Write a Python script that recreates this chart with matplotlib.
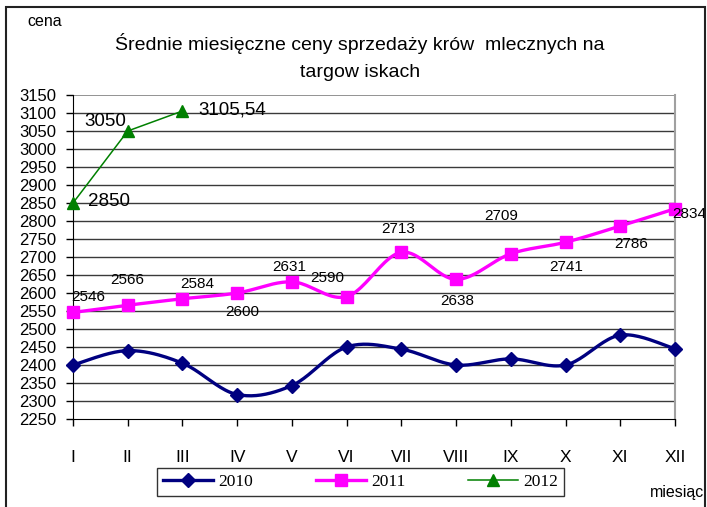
import numpy as np
import matplotlib
matplotlib.use("Agg")
import matplotlib.pyplot as plt
from matplotlib.lines import Line2D
from matplotlib.patches import Rectangle
from matplotlib import font_manager

# ---------------- data ----------------
months = ["I", "II", "III", "IV", "V", "VI", "VII", "VIII", "IX", "X", "XI", "XII"]
y2010 = [2400, 2440, 2405, 2318, 2343, 2450, 2444, 2400, 2417, 2400, 2483, 2445]
y2011 = [2546, 2566, 2584, 2600, 2631, 2590, 2713, 2638, 2709, 2741, 2786, 2834]
y2012 = [2850, 3050, 3105.54]
labels2011 = ["2546", "2566", "2584", "2600", "2631", "2590", "2713", "2638",
              "2709", "2741", "2786", "2834"]
labels2012 = ["2850", "3050", "3105,54"]
series_names = ["2010", "2011", "2012"]
title = "Średnie miesięczne ceny sprzedaży krów  mlecznych na\ntargow iskach"
ylabel = "cena"
xlabel = "miesiąc"
yticks = list(range(2250, 3151, 50))

# label offsets (pixels) – layout only
off2011 = [(15, 15), (0, 25), (15, 15), (5, -19), (-3, 15), (-19, 19), (-3, 23),
           (1, -22), (-10, 38), (1, -25), (11, -18), (14, -5)]
off2012 = [(36, 1), (-22, 10), (50, 1)]

# ---------------- fonts ----------------
avail = {f.name for f in font_manager.fontManager.ttflist}
sans = "Liberation Sans" if "Liberation Sans" in avail else "DejaVu Sans"
narrow = "Liberation Sans Narrow" if "Liberation Sans Narrow" in avail else sans
serif = "Liberation Serif" if "Liberation Serif" in avail else "DejaVu Serif"
plt.rcParams["font.family"] = [sans, "DejaVu Sans"]


def smooth(xs, ys, n=24):
    p = np.column_stack([xs, ys]).astype(float)
    out = [p[0]]
    for i in range(len(p) - 1):
        p0 = p[i - 1] if i > 0 else p[i]
        p3 = p[i + 2] if i + 2 < len(p) else p[i + 1]
        c1 = p[i] + (p[i + 1] - p0) / 6.0
        c2 = p[i + 1] - (p3 - p[i]) / 6.0
        t = np.linspace(0, 1, n)[1:, None]
        seg = ((1 - t) ** 3) * p[i] + 3 * ((1 - t) ** 2) * t * c1 + 3 * (1 - t) * t ** 2 * c2 + t ** 3 * p[i + 1]
        out.extend(seg)
    out = np.array(out)
    return out[:, 0], out[:, 1]


W, H = 707, 507
fig = plt.figure(figsize=(W / 100, H / 100), dpi=100)
fig.patch.set_facecolor("white")

L, R, T, B = 73, 675, 95, 419
ax = fig.add_axes([L / W, 1 - B / H, (R - L) / W, (B - T) / H])

x = np.arange(len(months))
c2010, c2011, c2012 = "#000080", "#FF00FF", "#008000"

# grid
ax.set_ylim(2250, 3150)
ax.set_xlim(0, len(months) - 1)
ax.set_yticks(yticks)
ax.set_yticklabels([str(v) for v in yticks])
ax.set_xticks(x)
ax.set_xticklabels(months)
for v in yticks[1:-1]:
    ax.axhline(v, color="#3a3a3a", lw=1.0, zorder=1)
ax.axhline(yticks[-1], color="#8a8a8a", lw=1.3, zorder=1)

ax.spines["top"].set_visible(False)
ax.spines["right"].set_color("#a0a0a0")
ax.spines["right"].set_linewidth(1.5)
ax.spines["left"].set_color("black")
ax.spines["bottom"].set_color("black")
ax.tick_params(axis="y", direction="out", length=5, width=1, pad=7, labelsize=12)
ax.tick_params(axis="x", direction="out", length=5, width=1, pad=17, labelsize=12.5)

# series
sx, sy = smooth(x, y2010)
ax.plot(sx, sy, color=c2010, lw=2.4, zorder=3, clip_on=False)
ax.plot(x, y2010, ls="none", marker="D", ms=7.5, color=c2010, zorder=4, clip_on=False)

sx, sy = smooth(x, y2011)
ax.plot(sx, sy, color=c2011, lw=2.4, zorder=3, clip_on=False)
ax.plot(x, y2011, ls="none", marker="s", ms=8, color=c2011, zorder=4, clip_on=False)

x12 = x[:len(y2012)]
ax.plot(x12, y2012, color=c2012, lw=1.1, marker="^", ms=9, zorder=4, clip_on=False)

for xi, yi, lab, (dx, dy) in zip(x, y2011, labels2011, off2011):
    ax.annotate(lab, (xi, yi), xytext=(dx, dy), textcoords="offset pixels",
                ha="center", va="center", fontsize=11, family=[narrow, sans],
                color="black", zorder=5, annotation_clip=False)
for xi, yi, lab, (dx, dy) in zip(x12, y2012, labels2012, off2012):
    ax.annotate(lab, (xi, yi), xytext=(dx, dy), textcoords="offset pixels",
                ha="center", va="center", fontsize=13.5, color="black", zorder=5,
                annotation_clip=False)

# texts
fig.text(360 / W, 1 - 57 / H, title, ha="center", va="center", fontsize=14,
         linespacing=1.7)
fig.text(45 / W, 1 - 22 / H, ylabel, ha="center", va="center", fontsize=11.5)
fig.text(704 / W, 1 - 492 / H, xlabel, ha="right", va="center", fontsize=11.5)

# legend
handles = [
    Line2D([], [], color=c2010, lw=2.4, marker="D", ms=7.5),
    Line2D([], [], color=c2011, lw=2.4, marker="s", ms=8),
    Line2D([], [], color=c2012, lw=1.1, marker="^", ms=9),
]
leg = fig.legend(handles, series_names, loc="center", ncol=3,
                 bbox_to_anchor=((158 + 563) / 2 / W, 1 - 482 / H),
                 prop={"family": serif, "size": 12.5}, frameon=True, fancybox=False,
                 edgecolor="black", handlelength=2.9, handletextpad=0.3,
                 columnspacing=3.6, borderpad=0.35, borderaxespad=0)
leg.get_frame().set_linewidth(1.0)

# outer frame
fig.patches.append(Rectangle((6 / W, -0.2), (705 - 6) / W, 1.2 - 7 / H,
                             transform=fig.transFigure, fill=False,
                             edgecolor="#222222", lw=1.5))

fig.savefig("out.png", dpi=100, facecolor="white")
